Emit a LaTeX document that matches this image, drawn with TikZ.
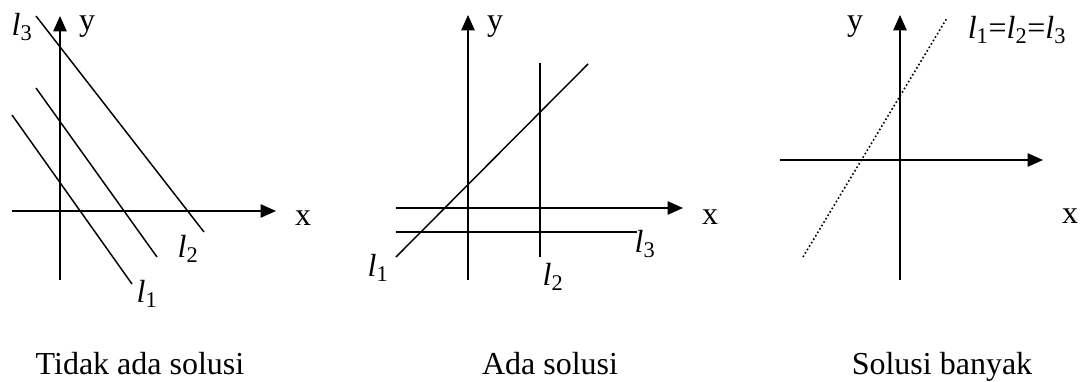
\documentclass[tikz,border=0pt]{standalone}
\usepackage{fontspec}
\setmainfont{Liberation Serif}
\usetikzlibrary{arrows.meta}
\tikzstyle{axis} = [
    line width=1.1pt,
    -{Triangle[length=11.5pt,width=10pt]}
]
\tikzstyle{garis} = [line width=1.1pt]
\tikzstyle{garistitik} = [
    line width=1.2pt,
    dash pattern=on 1.2pt off 1.8pt
]
\tikzstyle{teks} = [
    inner sep=0pt,
    font=\fontsize{24}{28}\selectfont
]
\newcommand{\garisl}[1]{\textit{l}\textsubscript{#1}}

\begin{document}
\begin{tikzpicture}[x=0.75pt, y=-0.75pt]

\useasboundingbox (0,0) rectangle (1083,382);

\draw [axis] (60,280) -- (60,16);
\draw [axis] (12,211) -- (276,211);
\draw [garis] (36,16) -- (204,232);
\draw [garis] (36,88) -- (157,257);
\draw [garis] (12,115) -- (132,284);

\node (y1) [teks] at (87,27) {y};
\node (x1) [teks] at (303,218) {x};
\node (l31) [teks] at (22,27) {\garisl{3}};
\node (l21) [teks] at (188,249) {\garisl{2}};
\node (l11) [teks] at (147,294) {\garisl{1}};

\draw [axis] (468,280) -- (468,15);
\draw [axis] (396,208) -- (683,208);
\draw [garis] (396,232) -- (637,232);
\draw [garis] (540,63) -- (540,257);
\draw [garis] (396,257) -- (588,64);

\node (y2) [teks] at (495,27) {y};
\node (x2) [teks] at (710,217) {x};
\node (l32) [teks] at (645,244) {\garisl{3}};
\node (l22) [teks] at (553,277) {\garisl{2}};
\node (l12) [teks] at (378,268) {\garisl{1}};

\draw [axis] (900,280) -- (900,15);
\draw [axis] (780,160) -- (1043,160);
\draw [garistitik] (803,257) -- (947,18);

\node (y3) [teks] at (855,27) {y};
\node (x3) [teks] at (1070,216) {x};
\node (l3) [teks] at (1017,30) {\garisl{1}=\garisl{2}=\garisl{3}};

\node (cap1) [teks, anchor=base] at (140,374) {Tidak ada solusi};
\node (cap2) [teks, anchor=base] at (550,374) {Ada solusi};
\node (cap3) [teks, anchor=base] at (942,374) {Solusi banyak};

\end{tikzpicture}
\end{document}
